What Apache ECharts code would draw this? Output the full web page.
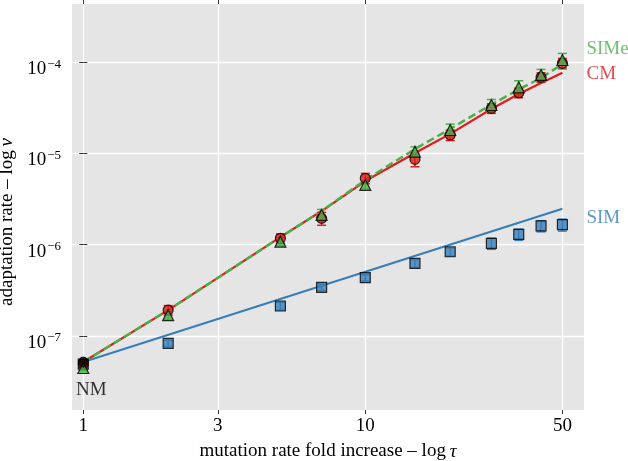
<!DOCTYPE html>
<html><head><meta charset="utf-8">
<script src="https://cdn.jsdelivr.net/npm/echarts@6/dist/echarts.min.js"></script>
<style>html,body{margin:0;padding:0;background:#fff}#c{width:628px;height:461px}</style>
</head><body><div id="c"></div>
<script>
// ---- data ----
const tau = [1, 2, 5, 7, 10, 15, 20, 28, 35, 42, 50];
const simValues  = [4.9e-8, 8.3e-8, 2.13e-7, 3.41e-7, 4.35e-7, 6.25e-7, 8.37e-7, 1.035e-6, 1.30e-6, 1.61e-6, 1.66e-6];
const cmValues   = [4.92e-8, 1.92e-7, 1.175e-6, 1.945e-6, 5.35e-6, 8.63e-6, 1.595e-5, 3.13e-5, 4.64e-5, 6.85e-5, 9.75e-5];
const simeValues = [4.45e-8, 1.69e-7, 1.08e-6, 2.12e-6, 4.52e-6, 1.047e-5, 1.81e-5, 3.40e-5, 5.32e-5, 7.26e-5, 1.06e-4];
const simErr  = [0.08, 0.08, 0.10, 0.08, 0.08, 0.10, 0.10, 0.14, 0.14, 0.14, 0.15];
const cmErr   = [0.08, 0.12, 0.12, 0.16, 0.13, 0.17, 0.13, 0.12, 0.12, 0.12, 0.13];
const simeErr = [0.06, 0.10, 0.10, 0.15, 0.10, 0.13, 0.16, 0.15, 0.18, 0.15, 0.18];
const nmTau = [1];
const nmValues = [5.17e-8];
const cmLine   = [5.18e-8, 1.92e-7, 1.21e-6, 2.34e-6, 4.99e-6, 1.013e-5, 1.64e-5, 3.08e-5, 4.49e-5, 5.93e-5, 7.69e-5];
const simeLine = [5.18e-8, 1.92e-7, 1.21e-6, 2.34e-6, 5.12e-6, 1.12e-5, 1.86e-5, 3.44e-5, 5.04e-5, 6.73e-5, 9.58e-5];
const simLineTau = [1, 50];
const simLine    = [5.18e-8, 2.48e-6];
const xTicks = [1, 3, 10, 50];
const yTickExponents = [-7, -6, -5, -4];

// ---- build ----
const L = v => Math.log10(v);
const RED = '#e41a1c', BLUE = '#377eb8', GREEN = '#4daf4a';
const FONT = 'Liberation Serif';
const pts = (xs, ys) => xs.map((x, i) => [L(x), L(ys[i])]);
const errPts = (xs, ys, rel) => xs.map((x, i) => [L(x), L(ys[i] * (1 - rel[i])), L(ys[i] * (1 + rel[i]))]);

function errSeries(data, color, z) {
  return {
    type: 'custom', data: data, z: z, silent: true,
    encode: { x: 0, y: [1, 2] },
    renderItem: function (params, api) {
      const x = api.value(0), p1 = api.coord([x, api.value(1)]), p2 = api.coord([x, api.value(2)]);
      const w = 4.5, st = { stroke: color, lineWidth: 1.5 };
      return { type: 'group', children: [
        { type: 'line', shape: { x1: p1[0], y1: p1[1], x2: p2[0], y2: p2[1] }, style: st },
        { type: 'line', shape: { x1: p1[0] - w, y1: p1[1], x2: p1[0] + w, y2: p1[1] }, style: st },
        { type: 'line', shape: { x1: p2[0] - w, y1: p2[1], x2: p2[0] + w, y2: p2[1] }, style: st }
      ]};
    }
  };
}
function annot(x, y, text, color, pos, offset) {
  return {
    type: 'scatter', z: 10, silent: true, symbol: 'circle', symbolSize: 0.1,
    itemStyle: { color: 'transparent' },
    data: [[L(x), L(y)]],
    label: { show: true, position: pos, distance: 0, offset: offset, formatter: text,
      fontFamily: FONT, fontSize: 19, color: color }
  };
}

const xTickVals = xTicks.map(L);
const xMin = -0.040, xMax = 1.7755, yMin = -7.812, yMax = -3.361;
const tickStyle = { show: true, length: 4, lineStyle: { color: '#333', width: 1 } };

const option = {
  animation: false,
  grid: { left: 72, right: 44, top: 4, bottom: 51, show: true, backgroundColor: '#e5e5e5', borderWidth: 0,
    containLabel: false, outerBoundsMode: 'none' },
  xAxis: [{
    type: 'value', min: xMin, max: xMax, position: 'bottom',
    axisLine: { show: false },
    axisTick: Object.assign({ customValues: xTickVals }, tickStyle),
    axisLabel: { customValues: xTickVals, formatter: v => String(Math.round(Math.pow(10, v))),
      fontFamily: FONT, fontSize: 19, color: '#000', margin: 7 },
    splitLine: { show: true, lineStyle: { color: '#fff', width: 1.3 } },
    name: '{a|mutation rate fold increase – log\u2009}{i|τ}', nameLocation: 'middle', nameGap: 32,
    nameTextStyle: { rich: { a: { fontFamily: FONT, fontSize: 19, color: '#000' },
      i: { fontFamily: FONT, fontSize: 19, fontStyle: 'italic', color: '#000' } } }
  }, {
    type: 'value', min: xMin, max: xMax, position: 'top',
    axisLine: { show: false },
    axisTick: Object.assign({ customValues: xTickVals }, tickStyle),
    axisLabel: { show: false }, splitLine: { show: false }
  }],
  yAxis: [{
    type: 'value', min: yMin, max: yMax, position: 'left',
    axisLine: { show: false },
    axisTick: Object.assign({ customValues: yTickExponents }, tickStyle),
    axisLabel: { customValues: yTickExponents, margin: 11, color: '#000',
      formatter: v => '{b|10}{s|\u2212' + Math.round(-v) + '}',
      rich: {
        b: { fontFamily: FONT, fontSize: 19, lineHeight: 19, padding: [7, 0, 0, 0], verticalAlign: 'top', color: '#000' },
        s: { fontFamily: FONT, fontSize: 13, lineHeight: 13, padding: [5, 0, 0, 1], verticalAlign: 'top', color: '#000' }
      } },
    splitLine: { show: true, lineStyle: { color: '#fff', width: 1.3 } },
    name: '{a|adaptation rate – log\u2009}{i|v}', nameLocation: 'middle', nameGap: 50,
    nameTextStyle: { padding: [0, 30, 0, 0], rich: { a: { fontFamily: FONT, fontSize: 19, color: '#000' },
      i: { fontFamily: FONT, fontSize: 19, fontStyle: 'italic', color: '#000' } } }
  }, {
    type: 'value', min: yMin, max: yMax, position: 'right',
    axisLine: { show: false },
    axisTick: Object.assign({ customValues: yTickExponents }, tickStyle),
    axisLabel: { show: false }, splitLine: { show: false }
  }],
  series: [
    { type: 'line', z: 2, data: pts(simLineTau, simLine), symbol: 'none', lineStyle: { color: BLUE, width: 2 } },
    { type: 'line', z: 2, data: pts(tau, cmLine), symbol: 'none', lineStyle: { color: RED, width: 2.2 } },
    { type: 'line', z: 2, data: pts(tau, simeLine), symbol: 'none', lineStyle: { color: GREEN, width: 2.5, type: [8, 4] } },
    errSeries(errPts(tau, simValues, simErr), BLUE, 3),
    errSeries(errPts(tau, cmValues, cmErr), RED, 3),
    errSeries(errPts(tau, simeValues, simeErr), GREEN, 3),
    { type: 'scatter', z: 4, data: pts(tau, simValues), symbol: 'rect', symbolSize: 10,
      itemStyle: { color: BLUE, borderColor: '#000', borderWidth: 1.2 } },
    { type: 'scatter', z: 4, data: pts(tau, cmValues), symbol: 'circle', symbolSize: 10,
      itemStyle: { color: RED, borderColor: '#000', borderWidth: 1.2 } },
    { type: 'scatter', z: 4, data: pts(tau, simeValues), symbol: 'triangle', symbolSize: 11,
      itemStyle: { color: GREEN, borderColor: '#000', borderWidth: 1.2 } },
    { type: 'scatter', z: 5, data: pts(nmTau, nmValues), symbol: 'circle', symbolSize: 10,
      itemStyle: { color: '#000', borderColor: '#000', borderWidth: 1 } },
    annot(50, simeLine[simeLine.length - 1], 'SIMe', GREEN, 'right', [24, -15]),
    annot(50, cmLine[cmLine.length - 1], 'CM', RED, 'right', [24, 1]),
    annot(50, simLine[simLine.length - 1], 'SIM', BLUE, 'right', [24, 9]),
    annot(nmTau[0], nmValues[0], 'NM', '#000', 'inside', [8, 28])
  ]
};
echarts.init(document.getElementById('c'), null, { renderer: 'canvas' }).setOption(option);
</script>
</body></html>
